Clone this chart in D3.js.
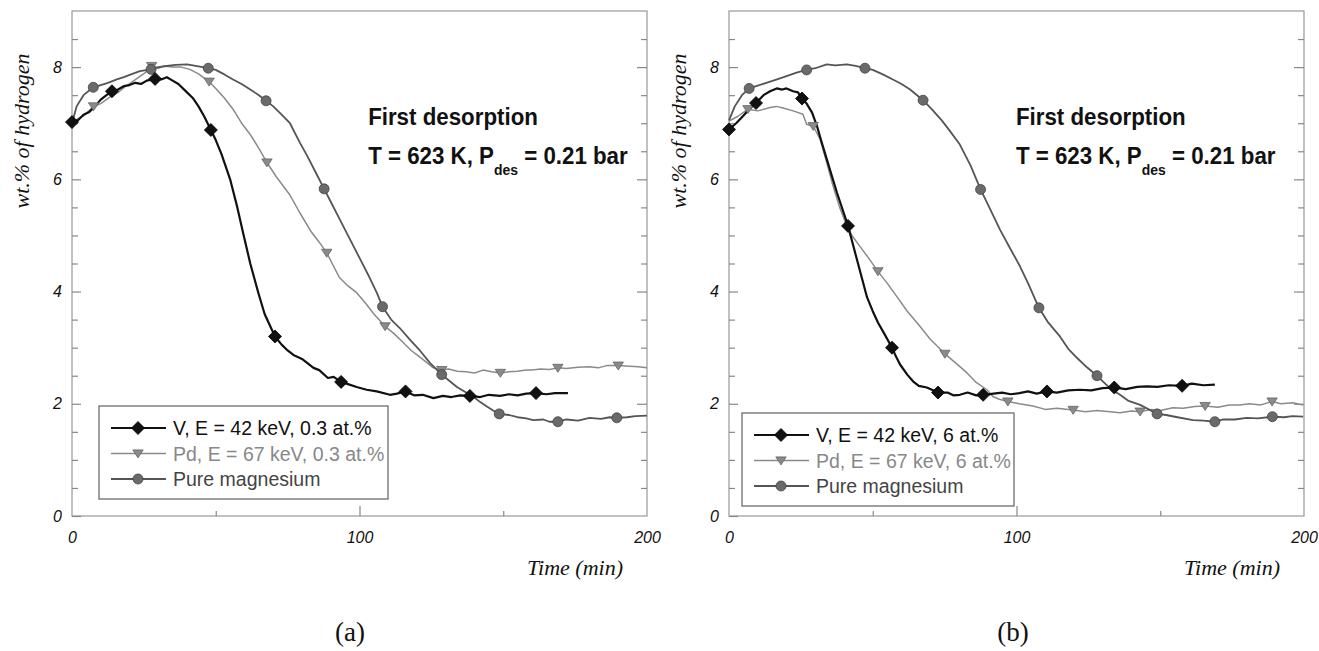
<!DOCTYPE html>
<html><head><meta charset="utf-8">
<script src="https://cdn.jsdelivr.net/npm/d3@7"></script>
<style>body{margin:0;background:#fff}svg{display:block}</style>
</head><body>
<svg id="c" width="1319" height="651"></svg>
<script>
// ---------------- DATA ----------------
const xTicksMajor = [0, 100, 200];
const xTicksMinor = [50, 150];
const yTicksMajor = [0, 2, 4, 6, 8];
const yTicksMinor = [0.5,1,1.5,2.5,3,3.5,4.5,5,5.5,6.5,7,7.5,8.5];
const xTitle = "Time (min)";
const yTitle = "wt.% of hydrogen";
const annotLine1 = "First desorption";
const seriesNames = ["V", "Pd", "Mg"];
const legendA = ["V, E = 42 keV, 0.3 at.%", "Pd, E = 67 keV, 0.3 at.%", "Pure magnesium"];
const legendB = ["V, E = 42 keV, 6 at.%", "Pd, E = 67 keV, 6 at.%", "Pure magnesium"];
const captions = ["(a)", "(b)"];

// panel (a)
const a_V = [[0,7.02],[2,7.05],[4,7.15],[6,7.2],[8,7.3],[10,7.42],[12,7.5],[14,7.57],[16,7.6],[18,7.66],[20,7.68],[22,7.72],[24,7.7],[26,7.76],[29,7.79],[31,7.78],[33,7.82],[35,7.76],[37,7.7],[40,7.55],[42,7.45],[44,7.3],[46,7.12],[48.3,6.88],[50,6.7],[52,6.45],[55,6.0],[57.5,5.5],[59.5,5.05],[62,4.5],[64.8,3.98],[67,3.6],[70.6,3.2],[73,3.05],[75,2.95],[77,2.87],[80,2.8],[82,2.72],[84,2.64],[86,2.6],[89,2.46],[91,2.48],[93.6,2.39],[96,2.35],[99,2.3],[102.5,2.25],[106,2.22],[110.6,2.16],[113,2.18],[116,2.22],[119,2.15],[122,2.16],[125.7,2.1],[129,2.14],[132,2.12],[135,2.15],[138.4,2.14],[142,2.12],[145,2.16],[148.9,2.14],[152,2.17],[155,2.15],[158,2.18],[161.4,2.19],[165,2.17],[168,2.19],[172.5,2.19]];
const a_Pd = [[0,7.0],[2,7.08],[4,7.13],[7.5,7.3],[10,7.35],[13,7.46],[16,7.55],[18.5,7.65],[21.3,7.75],[24,7.85],[25.5,7.9],[27.7,8.02],[30,7.98],[32,8.02],[35,8.0],[38,8.0],[41,7.96],[44,7.88],[47.7,7.74],[50,7.62],[53,7.45],[56,7.25],[59,7.0],[62,6.8],[65,6.55],[67.8,6.3],[71,6.05],[75.8,5.72],[79.3,5.4],[83,5.08],[86,4.88],[88.6,4.69],[93,4.25],[96,4.1],[99,3.98],[102,3.8],[105,3.6],[108.9,3.38],[112,3.25],[115,3.1],[118,2.95],[120,2.87],[123,2.75],[125.7,2.64],[128.6,2.6],[131,2.62],[134,2.58],[137,2.57],[140,2.55],[143,2.6],[146,2.57],[149,2.55],[152,2.57],[155,2.58],[158,2.6],[160,2.6],[163,2.62],[166,2.61],[169,2.64],[172,2.63],[176,2.65],[180,2.66],[183,2.64],[186,2.68],[190,2.68],[194,2.67],[197,2.66],[200,2.64]];
const a_Mg = [[0,7.0],[1.6,7.3],[4,7.5],[7.4,7.64],[10,7.68],[12.5,7.72],[15.6,7.78],[18,7.82],[21,7.88],[23.6,7.93],[27.5,7.96],[30,8.0],[33,8.02],[36,8.04],[40,8.05],[43,8.02],[47.4,7.98],[50,7.95],[53,7.87],[56,7.78],[59,7.7],[62,7.6],[65,7.5],[67.5,7.4],[70,7.3],[73,7.15],[75.8,7.0],[79.3,6.65],[82,6.4],[85,6.1],[87.7,5.83],[90,5.6],[93,5.3],[96.7,4.93],[100,4.6],[103,4.3],[106,3.98],[108,3.73],[111,3.5],[114,3.35],[117.6,3.14],[121,2.95],[124.5,2.73],[128.6,2.52],[131,2.42],[133.9,2.3],[136.5,2.22],[139.5,2.13],[142,2.03],[144.3,1.95],[146.5,1.88],[148.6,1.82],[152,1.8],[155,1.76],[158,1.74],[160.4,1.71],[164,1.72],[166,1.68],[169,1.68],[172,1.72],[176,1.7],[180,1.75],[184,1.73],[187,1.76],[189.5,1.75],[193,1.76],[196,1.78],[200,1.79]];
const a_V_marks = [[0,7.02],[13.9,7.57],[28.9,7.79],[48.3,6.88],[70.6,3.2],[93.6,2.39],[116,2.22],[138.4,2.14],[161.4,2.19]];
const a_Pd_marks = [[7.5,7.3],[27.7,8.02],[47.7,7.74],[67.8,6.3],[88.6,4.69],[108.9,3.38],[128.6,2.6],[149,2.55],[169,2.64],[190,2.68]];
const a_Mg_marks = [[7.4,7.64],[27.5,7.96],[47.4,7.98],[67.5,7.4],[87.7,5.83],[108,3.73],[128.6,2.52],[148.6,1.82],[169,1.68],[189.5,1.75]];

// panel (b)
const b_V = [[0,6.89],[2.5,7.0],[4.9,7.13],[7,7.25],[9.4,7.36],[12,7.5],[14.3,7.57],[16.6,7.62],[18.5,7.6],[20,7.62],[22.3,7.57],[24,7.55],[25.4,7.44],[27,7.35],[28.9,7.19],[30.6,6.95],[32,6.7],[34,6.36],[37.5,5.77],[41.4,5.17],[44.5,4.57],[48,3.9],[50,3.65],[51.8,3.45],[54,3.25],[56.7,3.0],[58,2.85],[59.5,2.7],[62,2.52],[64,2.4],[66,2.32],[68.8,2.29],[72.7,2.2],[76,2.2],[78,2.15],[80.3,2.16],[83,2.2],[86,2.15],[89,2.16],[92,2.18],[95,2.2],[98,2.17],[101,2.19],[104,2.22],[107,2.18],[110.6,2.22],[114,2.2],[118,2.24],[122,2.25],[126,2.24],[130,2.28],[134,2.29],[138,2.26],[142,2.3],[145.3,2.31],[149,2.3],[153,2.33],[157.6,2.32],[161,2.36],[165,2.33],[169,2.34]];
const b_Pd = [[0,7.04],[3,7.12],[6.6,7.25],[10,7.22],[14.3,7.28],[16.5,7.3],[18.8,7.27],[22.3,7.22],[25.7,7.16],[27,6.98],[29.3,6.95],[31.7,6.71],[34,6.3],[36.2,5.88],[38.5,5.5],[41,5.17],[43,4.98],[45.6,4.8],[48.5,4.6],[51.8,4.36],[55,4.15],[58.4,3.91],[62,3.65],[66.4,3.38],[70,3.15],[75.1,2.89],[79,2.72],[82.8,2.55],[86,2.38],[89.7,2.25],[91.8,2.13],[94,2.08],[97,2.04],[101,2.0],[105.7,1.96],[110,1.9],[114,1.92],[119.7,1.89],[124,1.86],[128,1.88],[132.5,1.86],[136,1.84],[140,1.87],[143,1.86],[147,1.9],[150,1.88],[154.4,1.93],[158,1.92],[162,1.95],[165.6,1.96],[170,1.94],[174,1.98],[177.7,1.98],[181,2.0],[185,1.98],[188.9,2.04],[192,2.0],[196,2.02],[199.7,1.98]];
const b_Mg = [[0,7.05],[2,7.3],[4.5,7.5],[7,7.62],[10,7.67],[13,7.72],[16.7,7.78],[20,7.84],[23.5,7.9],[27,7.95],[30,7.98],[34,8.05],[37,8.03],[41,8.05],[44,8.02],[47.3,7.98],[50,7.95],[53.5,7.87],[57,7.78],[60,7.7],[63,7.6],[67.5,7.41],[70.5,7.25],[74,7.05],[77,6.85],[80.3,6.62],[84,6.25],[87.5,5.82],[91,5.45],[94.3,5.1],[98,4.75],[101.2,4.45],[104,4.15],[107.8,3.71],[111,3.45],[115.1,3.2],[118,2.98],[121,2.82],[124.5,2.65],[128,2.5],[131,2.35],[133.5,2.24],[136,2.16],[139,2.05],[143,1.98],[146,1.9],[148.9,1.82],[152,1.8],[156,1.76],[161.4,1.71],[165,1.7],[169,1.68],[172,1.72],[176,1.72],[180,1.75],[184,1.74],[189,1.77],[193,1.76],[196,1.78],[199.7,1.77]];
const b_V_marks = [[0,6.89],[9.4,7.36],[25.4,7.44],[41.4,5.17],[56.7,3.0],[72.7,2.2],[88.4,2.16],[110.6,2.22],[134,2.29],[157.6,2.32]];
const b_Pd_marks = [[6.6,7.25],[29.3,6.95],[51.8,4.36],[75.1,2.89],[97,2.04],[119.7,1.89],[143,1.86],[165.6,1.96],[188.9,2.04]];
const b_Mg_marks = [[7,7.62],[27,7.95],[47.3,7.98],[67.5,7.41],[87.5,5.82],[107.8,3.71],[128,2.5],[148.9,1.82],[169,1.68],[189,1.77]];

// ---------------- DRAWING ----------------
const svg = d3.select("#c");
const SANS = "'Liberation Sans', Arial, Helvetica, sans-serif";
const SERIF = "'Liberation Serif', 'Times New Roman', serif";
const style = {
  V:  {stroke:"#111", width:2.2, fill:"#111", text:"#111"},
  Pd: {stroke:"#8a8a8a", width:1.5, fill:"#8a8a8a", text:"#888"},
  Mg: {stroke:"#555", width:1.8, fill:"#6a6a6a", text:"#444"}
};

function marker(g, type, x, y, st) {
  if (type === "V") {
    const r = 6.5;
    g.append("path").attr("d", `M${x},${y-r}L${x+r},${y}L${x},${y+r}L${x-r},${y}Z`)
      .attr("fill", st.fill).attr("stroke", "#000").attr("stroke-width", 0.8);
  } else if (type === "Pd") {
    const w = 5.2, h = 8;
    g.append("path").attr("d", `M${x-w},${y-h*0.45}L${x+w},${y-h*0.45}L${x},${y+h*0.55}Z`)
      .attr("fill", st.fill).attr("stroke", "#666").attr("stroke-width", 0.8);
  } else {
    g.append("circle").attr("cx", x).attr("cy", y).attr("r", 5)
      .attr("fill", st.fill).attr("stroke", "#444").attr("stroke-width", 0.8);
  }
}

function drawPanel(cfg) {
  const x = d3.scaleLinear().domain([0, 200]).range([cfg.x0, cfg.x1]);
  const y = d3.scaleLinear().domain([0, 9]).range([516, 11]);
  const g = svg.append("g");

  // frame
  g.append("rect").attr("x", cfg.x0).attr("y", 11).attr("width", cfg.x1 - cfg.x0).attr("height", 505)
    .attr("fill", "none").attr("stroke", "#a0a0a0").attr("stroke-width", 1.3);

  const axStyle = sel => { sel.select(".domain").remove(); sel.selectAll(".tick line").attr("stroke", "#888").attr("stroke-width", 1.2); };

  // left axis
  g.append("g").attr("transform", `translate(${cfg.x0},0)`)
    .call(d3.axisLeft(y).tickValues(yTicksMinor).tickSize(-6).tickFormat(""))
    .call(axStyle);
  const yl = g.append("g").attr("transform", `translate(${cfg.x0},0)`)
    .call(d3.axisLeft(y).tickValues(yTicksMajor).tickSizeInner(-9).tickSizeOuter(0).tickPadding(10).tickFormat(d3.format("d")))
    .call(axStyle);
  yl.selectAll("text").attr("font-family", SANS).attr("font-style", "italic").attr("font-size", 16).attr("fill", "#111")
    .attr("x", -10);
  // right axis
  g.append("g").attr("transform", `translate(${cfg.x1},0)`)
    .call(d3.axisRight(y).tickValues(yTicksMinor).tickSize(-6).tickFormat(""))
    .call(axStyle);
  g.append("g").attr("transform", `translate(${cfg.x1},0)`)
    .call(d3.axisRight(y).tickValues(yTicksMajor.filter(v => v > 0)).tickSize(-10).tickFormat(""))
    .call(axStyle);
  // bottom axis
  g.append("g").attr("transform", `translate(0,516)`)
    .call(d3.axisBottom(x).tickValues(xTicksMinor).tickSize(-5).tickFormat(""))
    .call(axStyle);
  const xb = g.append("g").attr("transform", `translate(0,516)`)
    .call(d3.axisBottom(x).tickValues(xTicksMajor).tickSizeInner(-10).tickSizeOuter(0).tickFormat(d3.format("d")))
    .call(axStyle);
  xb.selectAll(".tick line").filter(d => d === 0 || d === 200).remove();
  xb.selectAll("text").attr("font-family", SANS).attr("font-style", "italic").attr("font-size", 16).attr("fill", "#111")
    .attr("y", 16);

  // titles
  g.append("text").attr("transform", `translate(${cfg.x0 - 43},131) rotate(-90)`)
    .attr("text-anchor", "middle").attr("font-family", SERIF).attr("font-style", "italic").attr("font-size", 22)
    .attr("fill", "#111").text(yTitle);
  g.append("text").attr("x", cfg.x1 - 24).attr("y", 575).attr("text-anchor", "end")
    .attr("font-family", SERIF).attr("font-style", "italic").attr("font-size", 22).attr("fill", "#111").text(xTitle);

  // series
  const line = d3.line().x(d => x(d[0])).y(d => y(d[1]));
  const order = ["Pd", "Mg", "V"];
  order.forEach(k => {
    const st = style[k];
    g.append("path").datum(cfg.data[k]).attr("d", line).attr("fill", "none")
      .attr("stroke", st.stroke).attr("stroke-width", st.width).attr("stroke-linejoin", "round");
  });
  order.forEach(k => {
    cfg.marks[k].forEach(d => marker(g, k, x(d[0]), y(d[1]), style[k]));
  });

  // annotation
  const ax = x(cfg.annotT);
  const an = g.append("g").attr("transform", `translate(${ax},0) scale(0.93,1)`);
  an.append("text").attr("x", 0).attr("y", y(6.96)).attr("font-family", SANS).attr("font-weight", "bold")
    .attr("font-size", 24).attr("fill", "#111").text(annotLine1);
  const t2 = an.append("text").attr("x", 0).attr("y", y(6.27)).attr("font-family", SANS).attr("font-weight", "bold")
    .attr("font-size", 24).attr("fill", "#111");
  t2.append("tspan").text("T = 623 K, P");
  t2.append("tspan").attr("font-size", 15).attr("dy", 11).text("des");
  t2.append("tspan").attr("dy", -11).text(" = 0.21 bar");

  // legend
  const L = cfg.legend;
  g.append("rect").attr("x", L.x).attr("y", L.y).attr("width", L.w).attr("height", L.h)
    .attr("fill", "#fff").attr("stroke", "#777").attr("stroke-width", 1.4);
  seriesNames.forEach((k, i) => {
    const st = style[k];
    const ry = L.y + 22 + i * 25.5;
    g.append("line").attr("x1", L.x + 12).attr("x2", L.x + 67).attr("y1", ry).attr("y2", ry)
      .attr("stroke", st.stroke).attr("stroke-width", st.width);
    marker(g, k, L.x + 39, ry, st);
    g.append("text").attr("x", L.x + 74).attr("y", ry + 7).attr("font-family", SANS).attr("font-size", 19.5)
      .attr("fill", st.text).text(cfg.legendText[i]);
  });

  // caption
  g.append("text").attr("x", cfg.capX).attr("y", 641).attr("text-anchor", "middle").attr("font-family", SERIF)
    .attr("font-size", 27).attr("fill", "#111").text(cfg.caption);
}

drawPanel({x0:72, x1:647, data:{V:a_V, Pd:a_Pd, Mg:a_Mg}, marks:{V:a_V_marks, Pd:a_Pd_marks, Mg:a_Mg_marks},
  annotT:103, legend:{x:99, y:406, w:289, h:93}, legendText:legendA, caption:captions[0], capX:350});
drawPanel({x0:729, x1:1304, data:{V:b_V, Pd:b_Pd, Mg:b_Mg}, marks:{V:b_V_marks, Pd:b_Pd_marks, Mg:b_Mg_marks},
  annotT:99.8, legend:{x:742, y:413, w:272, h:93}, legendText:legendB, caption:captions[1], capX:1013});
</script>
</body></html>
